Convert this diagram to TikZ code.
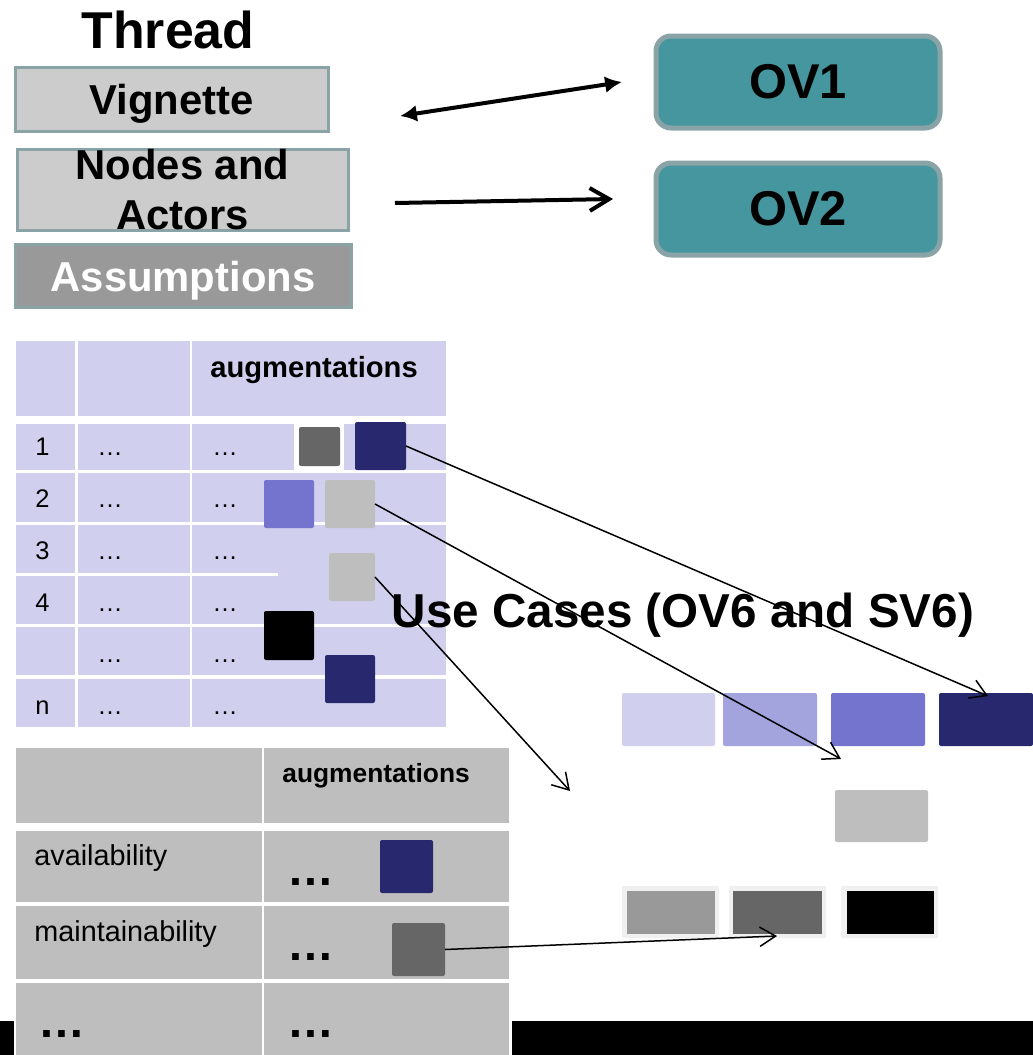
\documentclass[tikz,border=0pt]{standalone}
\usepackage{fontspec}
\setmainfont{Liberation Sans}
\usetikzlibrary{arrows.meta,fit}
\usepackage{xcolor}

\newlength{\pxu}\setlength{\pxu}{0.02cm}
\definecolor{boxgray}{HTML}{CCCCCC}
\definecolor{framegray}{HTML}{8AA3A6}
\definecolor{asmgray}{HTML}{999999}
\definecolor{ovteal}{HTML}{45969E}
\definecolor{lav}{HTML}{D0D0EE}
\definecolor{lavmid}{HTML}{A3A3DE}
\definecolor{lavdark}{HTML}{7474CF}
\definecolor{navy}{HTML}{28286F}
\definecolor{lgray}{HTML}{BEBEBE}
\definecolor{dgray}{HTML}{666666}
\definecolor{pale}{HTML}{F0F0F0}

\tikzset{
  thrbox/.style={draw=framegray, line width=3\pxu, fill=boxgray, inner sep=0pt},
  thrtxt/.style={font=\fontsize{23.8}{28.3}\selectfont\bfseries, align=center},
  ovbox/.style={draw=framegray, line width=5\pxu, fill=ovteal, rounded corners=15\pxu, inner sep=0pt},
  ovtxt/.style={font=\fontsize{27.8}{30}\selectfont\bfseries},
  sq/.style={rounded corners=2\pxu, inner sep=0pt, outer sep=0pt},
  celltxt/.style={anchor=base west, inner sep=0pt, font=\fontsize{14.5}{16}\selectfont},
  thkline/.style={line width=4\pxu},
  thinarr/.style={line width=1.5\pxu, -{Straight Barb[length=9pt,width=11pt]}}
}

\begin{document}
\begin{tikzpicture}[x=0.02cm, y=-0.02cm]
  \useasboundingbox (0,0) rectangle (1033,1055);
  \fill[black] (0,1021) rectangle (14,1055);
  \fill[black] (512,1021) rectangle (1033,1055);

  % thread stack
  \node[anchor=base, inner sep=0pt, font=\fontsize{29.5}{32}\selectfont\bfseries] (thread) at (168,48) {Thread};
  \node[thrbox, fit={(15,67) (328,131)}, label={[thrtxt, yshift=-5\pxu]center:Vignette}] (vig) {};
  \node[thrbox, fit={(17,149) (348,230)}, label={[thrtxt]center:Nodes and\\Actors}] (nda) {};
  \node[thrbox, fill=asmgray, fit={(15,244) (351,307)}, label={[thrtxt, text=white, yshift=-5\pxu]center:Assumptions}] (asm) {};

  \node[ovbox, fit={(656,36) (940,128)}, label={[ovtxt]center:OV1}] (ova) {};
  \node[ovbox, fit={(656,163) (940,255)}, label={[ovtxt]center:OV2}] (ovb) {};

  \coordinate (vigend) at (400,116);
  \coordinate (ovaend) at (622,82);
  \coordinate (ndaend) at (395,203);
  \coordinate (ovbend) at (613,199);
  \draw[thkline, {Latex[length=9.6pt,width=9.6pt]}-{Latex[length=9.6pt,width=9.6pt]}] (vigend) -- (ovaend);
  \draw[thkline, -{Straight Barb[length=11pt,width=13pt]}] (ndaend) -- (ovbend);

  % table of threads
  \foreach \xa/\xb in {16/75, 78/190, 192/446}{
    \fill[lav] (\xa,341) rectangle (\xb,416);
    \foreach \ya/\yb in {424/470, 473/522, 525/573, 576/624, 627/675, 679/727}
      \fill[lav] (\xa,\ya) rectangle (\xb,\yb);
  }
  \fill[lav] (278,572) rectangle (446,577);
  \node[celltxt, font=\fontsize{16.6}{18}\selectfont\bfseries] (augA) at (210,377) {augmentations};
  \foreach \lbl/\yb in {1/455, 2/507, 3/559, 4/611, n/714}
    \node[celltxt] (num\lbl) at (35,\yb) {\lbl};
  \foreach \yb [count=\i] in {455,507,559,611,662,714}{
    \node[celltxt] (dotb\i) at (97,\yb) {…};
    \node[celltxt] (dotc\i) at (212,\yb) {…};
  }

  \node[fill=white, inner sep=0pt, fit={(294,423) (344,470)}] (t1frame) {};
  \node[sq, fill=dgray, fit={(299,427) (340,466)}] (t1dgray) {};
  \node[sq, fill=navy, fit={(355,422) (406,470)}] (t1navy) {};
  \node[sq, fill=lavdark, fit={(264,480) (314,528)}] (t1purple) {};
  \node[sq, fill=lgray, fit={(325,480) (375,528)}] (t1lgray) {};
  \node[sq, fill=lgray, fit={(329,553) (375,601)}] (t1lgrayb) {};
  \node[sq, fill=black, fit={(264,611) (314,660)}] (t1black) {};
  \node[sq, fill=navy, fit={(325,655) (375,703)}] (t1navyb) {};

  % table of qualities
  \foreach \xa/\xb in {16/262, 264/509}
    \foreach \ya/\yb in {748/823, 831/902, 906/979, 983/1055}
      \fill[lgray] (\xa,\ya) rectangle (\xb,\yb);
  \node[celltxt, font=\fontsize{15}{17}\selectfont\bfseries] (augB) at (282,782) {augmentations};
  \node[celltxt, font=\fontsize{16.4}{18}\selectfont] (avail) at (34,865) {availability};
  \node[celltxt, font=\fontsize{16.4}{18}\selectfont] (maint) at (34,941) {maintainability};
  \foreach \xb/\yb [count=\i] in {287/885, 287/960, 38/1037, 287/1037}
    \node[celltxt, font=\fontsize{26.7}{28}\selectfont\bfseries] (dotq\i) at (\xb,\yb) {…};
  \node[sq, fill=navy, fit={(380,840) (433,893)}] (t2navy) {};
  \node[sq, fill=dgray, fit={(392,923) (445,976)}] (t2dgray) {};

  % use cases
  \node[anchor=base, inner sep=0pt, font=\fontsize{27.1}{30}\selectfont\bfseries] (uc) at (683,627) {Use Cases (OV6 and SV6)};
  \node[sq, fill=lav, fit={(622,693) (715,746)}] (ucA) {};
  \node[sq, fill=lavmid, fit={(723,693) (817,746)}] (ucB) {};
  \node[sq, fill=lavdark, fit={(831,693) (925,746)}] (ucC) {};
  \node[sq, fill=navy, fit={(939,693) (1033,746)}] (ucD) {};
  \node[sq, fill=lgray, fit={(835,790) (928,842)}] (ucE) {};
  \node[sq, fill=pale, fit={(622,886) (719,938)}] (ucFf) {};
  \node[sq, fill=pale, fit={(729,886) (826,938)}] (ucGf) {};
  \node[sq, fill=pale, fit={(841,886) (938,938)}] (ucHf) {};
  \node[fill=asmgray, inner sep=0pt, fit={(627,891) (715,934)}] (ucF) {};
  \node[fill=dgray, inner sep=0pt, fit={(733,891) (822,934)}] (ucG) {};
  \node[fill=black, inner sep=0pt, fit={(847,891) (934,934)}] (ucH) {};

  \coordinate (tipa) at (988,696);
  \coordinate (tipb) at (841,759);
  \coordinate (tipc) at (570,791);
  \coordinate (tipd) at (777,936);
  \draw[thinarr] (t1navy.east) -- (tipa);
  \draw[thinarr] (t1lgray.east) -- (tipb);
  \draw[thinarr] (t1lgrayb.east) -- (tipc);
  \draw[thinarr] (t2dgray.east) -- (tipd);
\end{tikzpicture}
\end{document}
